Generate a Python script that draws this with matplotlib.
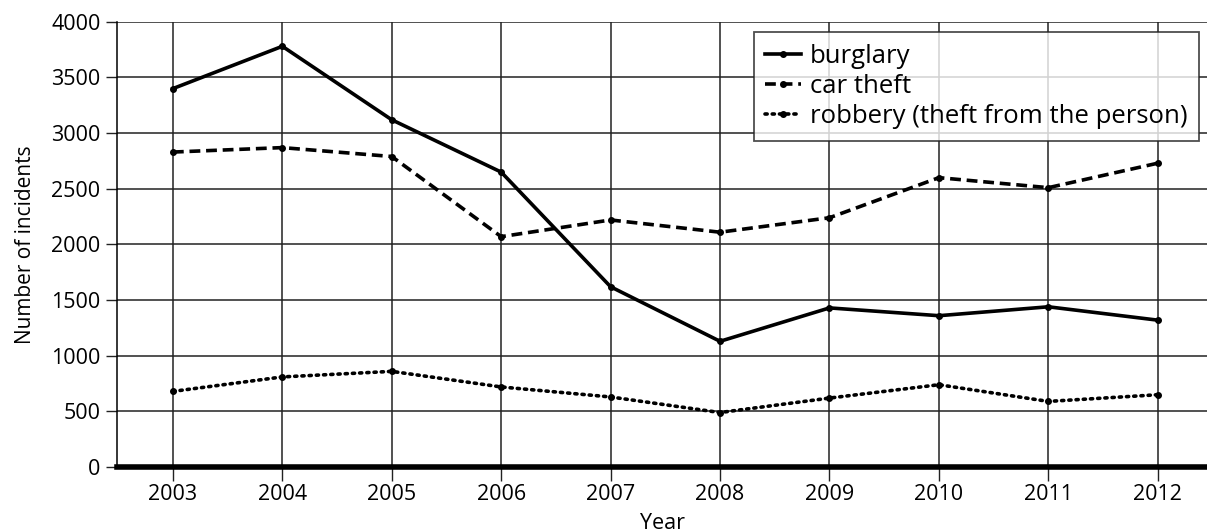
import matplotlib.pyplot as plt

# -----------------------------
# Data
# -----------------------------
years = [2003, 2004, 2005, 2006, 2007, 2008, 2009, 2010, 2011, 2012]
burglary = [3400, 3780, 3120, 2650, 1620, 1130, 1430, 1360, 1440, 1320]
car_theft = [2830, 2870, 2790, 2070, 2220, 2110, 2240, 2600, 2510, 2730]
robbery = [680, 810, 860, 720, 630, 490, 620, 740, 590, 650]

y_ticks = [0, 500, 1000, 1500, 2000, 2500, 3000, 3500, 4000]

plt.rcParams['font.family'] = ['Open Sans', 'DejaVu Sans']

# -----------------------------
# Figure
# -----------------------------
fig = plt.figure(figsize=(12.07, 5.32), dpi=100)
ax = fig.add_axes([0.097, 0.122, 0.903, 0.837])

ax.plot(years, burglary, color="black", lw=2.6, marker="o", ms=4,
        label="burglary")
ax.plot(years, car_theft, color="black", lw=2.6, marker="o", ms=4,
        dashes=(3, 1.6), label="car theft")
ax.plot(years, robbery, color="black", lw=2.6, marker="o", ms=4,
        linestyle=(0, (0.6, 1.4)), dash_capstyle="round",
        label="robbery (theft from the person)")

ax.set_xlim(2002.49, 2012.45)
ax.set_ylim(0, 4000)
ax.set_xticks(years)
ax.set_yticks(y_ticks)
ax.tick_params(axis="both", labelsize=15.5, color="#222222", width=1.0)
ax.tick_params(axis="y", length=8, pad=4)
ax.tick_params(axis="x", length=10, pad=2)

ax.grid(True, color="#222222", lw=1.1)
ax.set_axisbelow(True)

for side in ["top", "right"]:
    ax.spines[side].set_visible(False)
ax.spines["left"].set_linewidth(1.1)
ax.spines["bottom"].set_linewidth(4)

ax.set_ylabel("Number of incidents", fontsize=15)
ax.yaxis.set_label_coords(-0.074, 0.5)
ax.set_xlabel("Year", fontsize=15.5, va="center")
ax.xaxis.set_label_coords(0.5, -0.126)

leg = ax.legend(loc="upper left", bbox_to_anchor=(0.584, 0.976), fontsize=18.5,
                frameon=True, fancybox=False, edgecolor="#222222",
                handlelength=1.4, handletextpad=0.35, borderpad=0.45,
                labelspacing=0.2, borderaxespad=0)
leg.get_frame().set_linewidth(1.3)

fig.savefig("out.png", dpi=100)
